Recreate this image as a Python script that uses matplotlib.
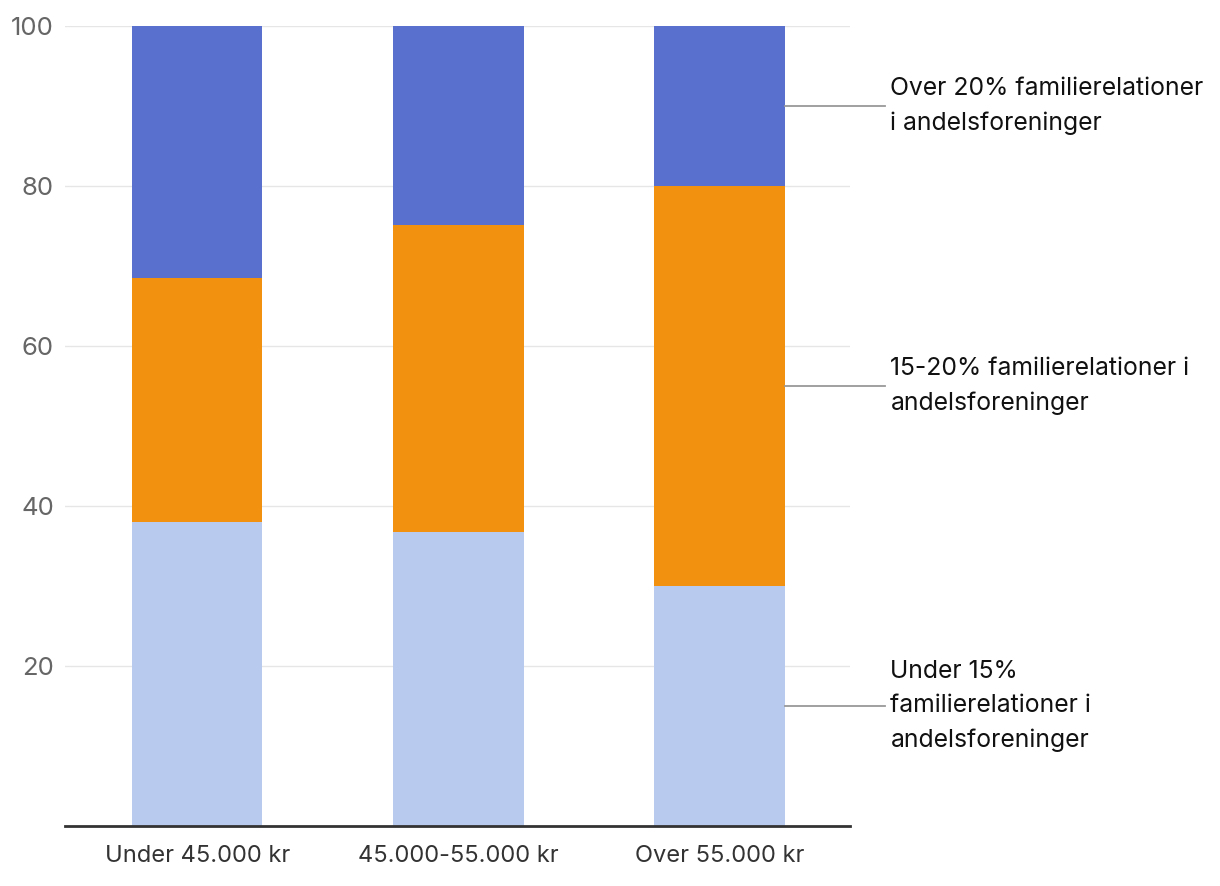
import matplotlib.pyplot as plt
import numpy as np

plt.rcParams['font.family'] = ['Inter', 'DejaVu Sans']

categories = ['Under 45.000 kr', '45.000-55.000 kr', 'Over 55.000 kr']
under15 = [38.0, 36.8, 30.0]
mid15_20 = [30.5, 38.3, 50.0]
over20 = [31.5, 24.9, 20.0]
series_labels = ['Under 15%\nfamilierelationer i\nandelsforeninger',
                 '15-20% familierelationer i\nandelsforeninger',
                 'Over 20% familierelationer\ni andelsforeninger']
colors = ['#b8caee', '#f2900f', '#5a70ce']

fig = plt.figure(figsize=(12.2, 8.86), dpi=100)
ax = fig.add_axes([65/1220, 60/886, 785/1220, 800/886])

x = np.arange(len(categories))
bottom = np.zeros(len(categories))
for vals, c in zip([under15, mid15_20, over20], colors):
    ax.bar(x, vals, width=0.5, bottom=bottom, color=c, zorder=2)
    bottom += np.array(vals)

# leader lines + labels at the last bar
b = 0
for vals, lab in zip([under15, mid15_20, over20], series_labels):
    ymid = b + vals[-1] / 2
    b += vals[-1]
    ax.plot([x[-1] + 0.25, x[-1] + 0.634], [ymid, ymid], color='#999999',
            lw=1.3, clip_on=False, zorder=3)
    ax.text(x[-1] + 0.655, ymid, lab, fontsize=17.8, color='#111111',
            va='center', ha='left', linespacing=1.62)

ax.set_xlim(-0.506, 2.5)
ax.set_ylim(0, 100)
ax.set_yticks([20, 40, 60, 80, 100])
ax.set_xticks(x)
ax.set_xticklabels(categories, fontsize=17, color='#333333')
ax.tick_params(axis='y', length=0, labelsize=18.5, labelcolor='#666666', pad=8)
ax.tick_params(axis='x', length=0, pad=14)
ax.grid(axis='y', color='#e6e6e6', lw=1, zorder=0)
for s in ['top', 'right', 'left']:
    ax.spines[s].set_visible(False)
ax.spines['bottom'].set_color('#333333')
ax.spines['bottom'].set_linewidth(2)
ax.spines['bottom'].set_zorder(4)

fig.savefig('out.png', dpi=100)
